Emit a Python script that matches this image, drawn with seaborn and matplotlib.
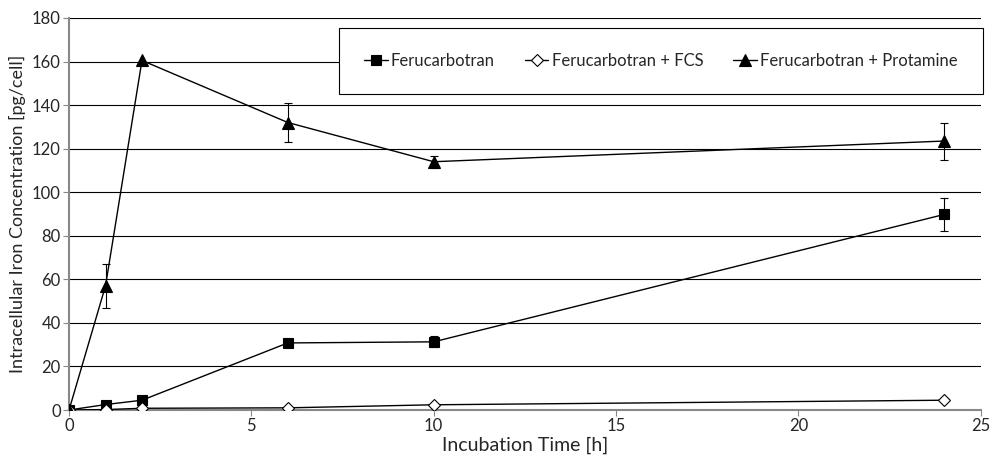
import matplotlib
matplotlib.use("Agg")
import matplotlib.pyplot as plt
import numpy as np
import pandas as pd
import seaborn as sns

# incubation time points [h]
time_h = [0, 1, 2, 6, 10, 24]

# intracellular iron [pg/cell]
feru = [0, 2.5, 4.5, 30.8, 31.3, 89.8]
feru_err = [0, 0, 0, 0, 2.5, 7.5]
feru_fcs = [0, 0.2, 0.8, 1.0, 2.4, 4.5]
feru_fcs_err = [0, 0, 0, 0, 0, 0]
feru_prot = [0, 57.0, 160.5, 132.0, 114.0, 123.5]
feru_prot_err = [0, 10.0, 0, 9.0, 2.8, 8.5]

series_names = ['Ferucarbotran', 'Ferucarbotran + FCS', 'Ferucarbotran + Protamine']

df = pd.DataFrame({
    'time': time_h * 3,
    'iron': feru + feru_fcs + feru_prot,
    'err': feru_err + feru_fcs_err + feru_prot_err,
    'series': np.repeat(series_names, len(time_h)),
})

sns.set_style('white')
plt.rcParams['font.family'] = ['Lato', 'DejaVu Sans']

fig = plt.figure(figsize=(9.92, 4.61), dpi=100)
ax = fig.add_axes([0.0696, 0.1106, 0.919, 0.8504])

styles = {
    'Ferucarbotran': dict(marker='s', markersize=7.5, markerfacecolor='black'),
    'Ferucarbotran + FCS': dict(marker='D', markersize=6, markerfacecolor='white'),
    'Ferucarbotran + Protamine': dict(marker='^', markersize=8.5, markerfacecolor='black'),
}

for name in series_names:
    sub = df[df['series'] == name]
    sns.lineplot(data=sub, x='time', y='iron', ax=ax, color='black', lw=1,
                 markeredgecolor='black', markeredgewidth=0.8, label=name,
                 zorder=3, **styles[name])
    has_err = sub['err'] > 0
    ax.errorbar(sub['time'][has_err], sub['iron'][has_err], yerr=sub['err'][has_err],
                fmt='none', ecolor='black', elinewidth=0.8, capsize=3, capthick=0.8, zorder=2)

ax.set_xlim(0, 25)
ax.set_ylim(0, 180)
ax.set_xticks(range(0, 26, 5))
ax.set_yticks(range(0, 181, 20))
ax.yaxis.grid(True, color='black', lw=0.8)
ax.set_axisbelow(True)
for s in ['top', 'right']:
    ax.spines[s].set_visible(False)
for s in ['left', 'bottom']:
    ax.spines[s].set_color('#888888')
    ax.spines[s].set_linewidth(1.5)
ax.tick_params(axis='both', labelsize=12, length=4, color='#888888', direction='out',
               left=True, bottom=True, pad=2)
ax.set_xlabel('Incubation Time [h]', fontsize=14, labelpad=2)
ax.set_ylabel('Intracellular Iron Concentration [pg/cell]', fontsize=13, labelpad=4)

leg = ax.legend(loc='upper right', bbox_to_anchor=(1.002, 0.975), ncol=3, fontsize=12,
                frameon=True, fancybox=False, borderpad=1.5, handlelength=1.4,
                handletextpad=0.2, columnspacing=1.8, borderaxespad=0)
leg.get_frame().set_edgecolor('black')
leg.get_frame().set_linewidth(0.8)
leg.get_frame().set_alpha(1)

fig.savefig('out.png', dpi=100)
